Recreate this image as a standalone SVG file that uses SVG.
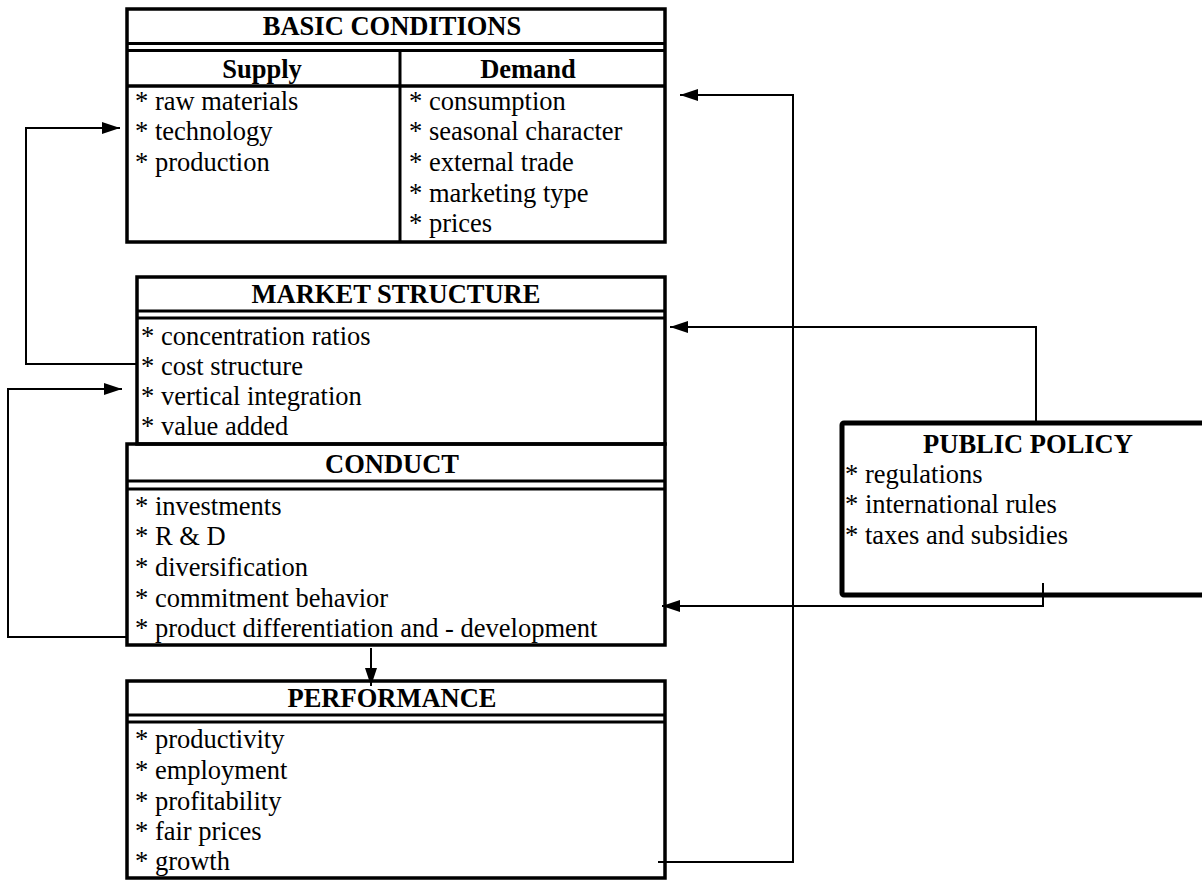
<svg xmlns="http://www.w3.org/2000/svg" width="1202" height="880" viewBox="0 0 1202 880">
<style>
.frame{fill:none;stroke:#000;stroke-width:3.5}
.dl{stroke:#000;stroke-width:3}
.pp{fill:none;stroke:#000;stroke-width:5}
.con{fill:none;stroke:#000;stroke-width:2}
.t{font-family:"Liberation Serif","Times New Roman",serif;font-size:26.5px;fill:#000}
.h{font-family:"Liberation Serif","Times New Roman",serif;font-size:26.5px;font-weight:bold;fill:#000;text-anchor:middle}
</style>
<defs>
<marker id="arr" viewBox="0 0 18 12" refX="18" refY="6" markerWidth="18" markerHeight="12" orient="auto" markerUnits="userSpaceOnUse"><path d="M0,0 L18,6 L0,12 z" fill="#000"/></marker>
</defs>
<rect width="1202" height="880" fill="#fff"/>

<g id="basic-conditions">
<rect class="frame" x="127" y="9" width="538" height="233"/>
<line class="dl" x1="127" y1="43.5" x2="665" y2="43.5"/>
<line class="dl" x1="127" y1="50.5" x2="665" y2="50.5"/>
<line class="frame" x1="127" y1="86" x2="665" y2="86"/>
<line class="dl" x1="400" y1="50.5" x2="400" y2="242"/>
<text class="h" x="392" y="35">BASIC CONDITIONS</text>
<text class="h" x="262" y="78">Supply</text>
<text class="h" x="528" y="78">Demand</text>
<text class="t" x="135" y="110">* raw materials</text>
<text class="t" x="135" y="140">* technology</text>
<text class="t" x="135" y="171">* production</text>
<text class="t" x="409" y="110">* consumption</text>
<text class="t" x="409" y="140">* seasonal character</text>
<text class="t" x="409" y="171">* external trade</text>
<text class="t" x="409" y="202">* marketing type</text>
<text class="t" x="409" y="232">* prices</text>
</g>

<g id="market-structure">
<rect class="frame" x="137" y="277" width="528" height="167"/>
<line class="dl" x1="137" y1="311" x2="665" y2="311"/>
<line class="dl" x1="137" y1="318" x2="665" y2="318"/>
<text class="h" x="396" y="303">MARKET STRUCTURE</text>
<text class="t" x="141" y="345">* concentration ratios</text>
<text class="t" x="141" y="375">* cost structure</text>
<text class="t" x="141" y="405">* vertical integration</text>
<text class="t" x="141" y="435">* value added</text>
</g>

<g id="conduct">
<rect class="frame" x="127" y="444" width="538" height="201"/>
<line class="dl" x1="127" y1="481" x2="665" y2="481"/>
<line class="dl" x1="127" y1="489" x2="665" y2="489"/>
<text class="h" x="392" y="473">CONDUCT</text>
<text class="t" x="135" y="515">* investments</text>
<text class="t" x="135" y="545">* R &amp; D</text>
<text class="t" x="135" y="576">* diversification</text>
<text class="t" x="135" y="607">* commitment behavior</text>
<text class="t" x="135" y="637">* product differentiation and - development</text>
</g>

<g id="performance">
<rect class="frame" x="127" y="681" width="538" height="197"/>
<line class="dl" x1="127" y1="715" x2="665" y2="715"/>
<line class="dl" x1="127" y1="722" x2="665" y2="722"/>
<text class="h" x="392" y="707">PERFORMANCE</text>
<text class="t" x="135" y="748">* productivity</text>
<text class="t" x="135" y="779">* employment</text>
<text class="t" x="135" y="810">* profitability</text>
<text class="t" x="135" y="840">* fair prices</text>
<text class="t" x="135" y="870">* growth</text>
</g>

<g id="public-policy">
<rect class="pp" x="842" y="423" width="380" height="172" rx="2"/>
<text class="h" x="1028" y="453">PUBLIC POLICY</text>
<text class="t" x="845" y="483">* regulations</text>
<text class="t" x="845" y="513">* international rules</text>
<text class="t" x="845" y="544">* taxes and subsidies</text>
</g>

<g id="connectors">
<polyline class="con" points="137,364 26,364 26,128 120,128" marker-end="url(#arr)"/>
<polyline class="con" points="126,637 8,637 8,389 122,389" marker-end="url(#arr)"/>
<polyline class="con" points="658,862 793,862 793,95 680,95" marker-end="url(#arr)"/>
<polyline class="con" points="1036,423 1036,327 670,327" marker-end="url(#arr)"/>
<polyline class="con" points="1043,583 1043,606 662,606" marker-end="url(#arr)"/>
<line class="con" x1="371" y1="648" x2="371" y2="686" marker-end="url(#arr)"/>
</g>
</svg>
